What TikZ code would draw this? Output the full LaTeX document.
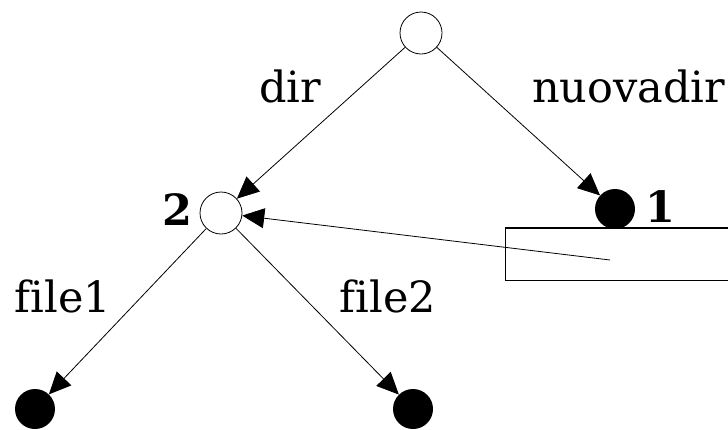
\documentclass[tikz,border=0pt]{standalone}
\usepackage{fontspec}
\setmainfont{DejaVu Serif}[Ligatures=NoCommon]
\usetikzlibrary{arrows.meta}

\begin{document}
\begin{tikzpicture}[x=1pt,y=-1pt,
  dirnode/.style={circle,draw,line width=0.8pt,minimum size=42pt,inner sep=0pt},
  filenode/.style={circle,fill,minimum size=40pt,inner sep=0pt},
  link/.style={line width=0.8pt,-{Triangle[length=22pt,width=20pt]}},
  lbl/.style={font=\fontsize{43}{45}\selectfont,inner sep=0pt,anchor=base}]
\useasboundingbox (0,0) rectangle (728,429);
\clip (0,0) rectangle (728,429);
\node (root) at (421,33) [dirnode] {};
\node (d2) at (221,213) [dirnode] {};
\node (d1) at (615,209) [filenode] {};
\node (f1) at (35,409) [filenode] {};
\node (f2) at (413,409) [filenode] {};
\node (blk) at (505,228) [draw,line width=1pt,anchor=north west,minimum width=240pt,minimum height=52pt] {};
\draw[line width=1.6pt] (blk.north west)--(blk.north east);
\coordinate (ptr) at (610,260);
\draw[link] (root)--(d2);
\draw[link] (root)--(d1);
\draw[link] (d2)--(f1);
\draw[link] (d2)--(f2);
\draw[link] (ptr)--(d2);
\node (ldir) at (290,102) [lbl] {dir};
\node (lnuovo) at (532,102) [lbl,anchor=base west] {nuovadir};
\node (lf1) at (63,312) [lbl] {file1};
\node (lf2) at (388,312) [lbl] {file2};
\node (n2) at (177,225) [lbl] {\bfseries 2};
\node (n1) at (660,222) [lbl] {\bfseries 1};
\end{tikzpicture}
\end{document}
